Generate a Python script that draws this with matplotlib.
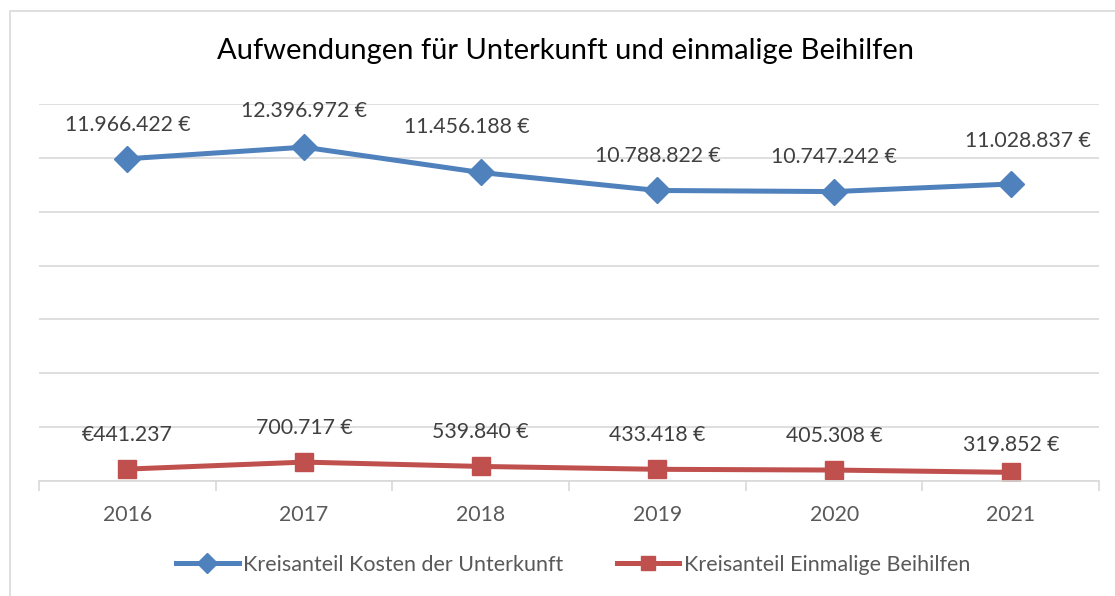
import matplotlib.pyplot as plt
from matplotlib.patches import Rectangle

plt.rcParams['font.family'] = ['Lato', 'DejaVu Sans']

years = ["2016", "2017", "2018", "2019", "2020", "2021"]
kdu = [11966422, 12396972, 11456188, 10788822, 10747242, 11028837]
beihilfen = [441237, 700717, 539840, 433418, 405308, 319852]
kdu_labels = ["11.966.422 €", "12.396.972 €", "11.456.188 €", "10.788.822 €", "10.747.242 €", "11.028.837 €"]
beih_labels = ["€441.237", "700.717 €", "539.840 €", "433.418 €", "405.308 €", "319.852 €"]

# label offsets (points) like Excel placed them
kdu_off = [(0, 24), (0, 26), (-10, 33), (0, 24.5), (0, 25), (12, 31)]
beih_off = [(0, 24.5), (0, 24.5), (0, 24.5), (0, 24.5), (0, 24.5), (0, 19.5)]

blue = "#4F81BD"
red = "#C0504D"
grid_col = "#D9D9D9"
txt_col = "#595959"

fig = plt.figure(figsize=(11.15, 5.96), dpi=100)
ax = fig.add_axes([0.035, 0.193, 0.9508, 0.6325])

# chart frame
fig.patches.append(Rectangle((10 / 1115, -0.1), 1.2, 1 - 11 / 596 + 0.1, transform=fig.transFigure,
                             fill=False, edgecolor=grid_col, linewidth=1.2))

x = list(range(len(years)))
ax.plot(x, kdu, color=blue, linewidth=3.6, marker="D", markersize=13, label="Kreisanteil Kosten der Unterkunft")
ax.plot(x, beihilfen, color=red, linewidth=3.6, marker="s", markersize=13, label="Kreisanteil Einmalige Beihilfen")

for i in x:
    ax.annotate(kdu_labels[i], (i, kdu[i]), xytext=kdu_off[i], textcoords="offset points",
                ha="center", va="center", fontsize=15.3, color="#404040")
    ax.annotate(beih_labels[i], (i, beihilfen[i]), xytext=beih_off[i], textcoords="offset points",
                ha="center", va="center", fontsize=15.3, color="#404040")

ax.set_xlim(-0.5, 5.5)
ax.set_ylim(0, 14000000)
ax.set_yticks(range(0, 14000001, 2000000))
ax.yaxis.grid(True, color=grid_col, linewidth=1.2)
ax.set_axisbelow(True)
ax.tick_params(axis="y", left=False, labelleft=False)

ax.set_xticks(x)
ax.set_xticklabels(years, fontsize=15.3, color=txt_col)
ax.tick_params(axis="x", length=0, pad=17)
ax.set_xticks([i - 0.5 for i in range(len(years) + 1)], minor=True)
ax.tick_params(axis="x", which="minor", length=7, color=grid_col, width=1.2)

for s in ["top", "right", "left"]:
    ax.spines[s].set_visible(False)
ax.spines["bottom"].set_color(grid_col)
ax.spines["bottom"].set_linewidth(1.2)

fig.suptitle("Aufwendungen für Unterkunft und einmalige Beihilfen", x=0.507, y=0.937,
             fontsize=21, color="black")

leg = fig.legend(loc="center", bbox_to_anchor=(0.514, 0.052), ncol=2, frameon=False,
                 fontsize=15.5, handlelength=2.9, handletextpad=0.2, columnspacing=2.5,
                 markerscale=0.75)
for t in leg.get_texts():
    t.set_color(txt_col)

fig.savefig("out.png", dpi=100)
plt.close(fig)
